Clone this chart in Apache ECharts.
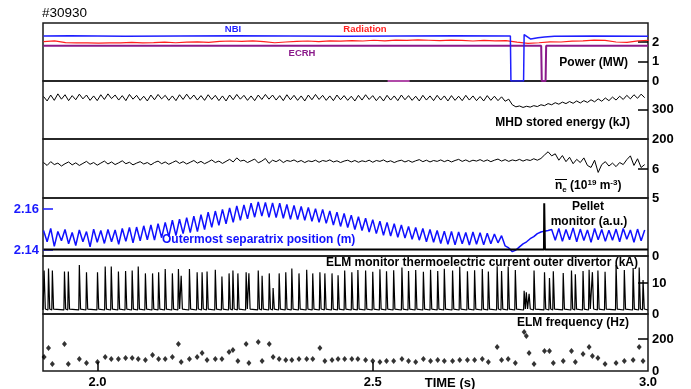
<!DOCTYPE html>
<html><head><meta charset="utf-8">
<script src="https://cdn.jsdelivr.net/npm/echarts@6/dist/echarts.min.js"></script>
<style>html,body{margin:0;padding:0;background:#fff}#c{width:691px;height:389px}</style>
</head><body><div id="c"></div>
<script>
// ---------- DATA ----------
// uniform sampling grid for the fast diagnostics (s)
const T0 = 1.902, DT = 0.0065;
const mhdEnergy = [
344,329,349,331,353,335,350,330,347,333,
352,336,349,331,346,330,350,334,353,337,
349,332,347,330,351,335,348,331,345,329,
349,333,351,336,348,331,346,330,350,334,
352,335,349,332,347,331,350,334,348,330,
346,329,349,333,351,335,348,331,346,330,
349,334,351,335,349,332,347,330,350,333,
348,331,346,329,349,333,351,334,348,331,
346,330,349,333,347,331,345,329,348,332,
350,334,347,330,345,329,348,332,346,330,
349,333,347,331,345,329,348,332,346,330,
348,332,346,329,347,331,345,330,348,332,
346,330,344,329,347,331,345,330,343,328,
335,316,309,312,307,311,308,313,310,316,
313,320,316,323,318,325,320,327,321,329,
322,330,324,333,326,336,328,339,330,342,
332,345,334,348,336,350,338,352,340];
const density = [
6.22,6.12,6.25,6.15,6.20,6.10,6.18,6.24,6.14,6.21,
6.12,6.19,6.26,6.16,6.22,6.13,6.20,6.27,6.17,6.24,
6.15,6.21,6.28,6.18,6.23,6.14,6.20,6.25,6.17,6.22,
6.14,6.22,6.27,6.18,6.24,6.16,6.22,6.28,6.19,6.25,
6.17,6.23,6.29,6.20,6.26,6.18,6.24,6.31,6.22,6.27,
6.19,6.26,6.33,6.24,6.38,6.27,6.30,6.22,6.28,6.34,
6.21,6.27,6.36,6.19,6.30,6.25,6.32,6.22,6.29,6.26,
6.31,6.24,6.29,6.22,6.28,6.25,6.30,6.23,6.29,6.26,
6.31,6.24,6.28,6.22,6.27,6.30,6.24,6.29,6.23,6.28,
6.25,6.30,6.23,6.29,6.26,6.31,6.24,6.28,6.22,6.27,
6.30,6.24,6.29,6.23,6.28,6.32,6.25,6.30,6.24,6.29,
6.26,6.31,6.25,6.30,6.24,6.29,6.33,6.26,6.31,6.25,
6.30,6.27,6.32,6.26,6.31,6.25,6.30,6.34,6.27,6.32,
6.26,6.31,6.28,6.33,6.27,6.32,6.29,6.35,6.30,6.36,
6.48,6.59,6.45,6.52,6.30,6.46,6.25,6.40,6.18,6.33,
6.22,6.38,6.12,6.05,6.30,5.88,6.15,6.25,6.10,6.20,
6.08,6.22,6.15,6.32,6.45,6.12,6.35,6.05,6.15];
const separatrix = [
2.1495,2.1440,2.1505,2.1418,2.1490,2.1445,2.1500,2.1430,2.1485,2.1422,
2.1498,2.1440,2.1490,2.1415,2.1502,2.1438,2.1495,2.1432,2.1500,2.1440,
2.1498,2.1428,2.1505,2.1442,2.1510,2.1435,2.1512,2.1445,2.1518,2.1450,
2.1522,2.1448,2.1528,2.1460,2.1535,2.1465,2.1545,2.1470,2.1550,2.1480,
2.1558,2.1485,2.1565,2.1490,2.1572,2.1500,2.1585,2.1510,2.1590,2.1520,
2.1598,2.1528,2.1605,2.1535,2.1615,2.1545,2.1620,2.1552,2.1628,2.1560,
2.1635,2.1565,2.1632,2.1560,2.1630,2.1558,2.1628,2.1555,2.1622,2.1550,
2.1618,2.1548,2.1612,2.1545,2.1608,2.1540,2.1602,2.1535,2.1598,2.1530,
2.1590,2.1522,2.1585,2.1515,2.1578,2.1510,2.1570,2.1500,2.1562,2.1495,
2.1555,2.1488,2.1548,2.1480,2.1540,2.1472,2.1535,2.1468,2.1528,2.1462,
2.1522,2.1458,2.1515,2.1452,2.1510,2.1448,2.1505,2.1440,2.1500,2.1438,
2.1495,2.1432,2.1492,2.1428,2.1490,2.1425,2.1488,2.1430,2.1485,2.1424,
2.1488,2.1428,2.1484,2.1425,2.1482,2.1430,2.1478,2.1435,2.1470,2.1420,
2.1410,2.1392,2.1400,2.1415,2.1430,2.1440,2.1455,2.1465,2.1480,2.1488,
2.1492,2.1495,2.1500,2.1448,2.1505,2.1442,2.1500,2.1450,2.1508,2.1440,
2.1502,2.1446,2.1498,2.1438,2.1505,2.1450,2.1500,2.1442,2.1496,2.1448,
2.1502,2.1440,2.1505,2.1452,2.1498,2.1438,2.1502,2.1445,2.1498];

// radiation, sampled every 20 ms
const RT0 = 1.902, RDT = 0.02;
const radiation = [2.02,2.06,1.97,1.95,1.96,1.94,1.96,1.95,1.98,1.96,
1.97,1.99,1.96,1.99,2.01,1.98,2.03,2.05,2.03,2.06,
2.02,1.96,2.00,2.03,2.05,2.02,2.06,2.04,2.07,2.05,
2.09,2.06,2.10,2.08,2.11,2.09,2.07,2.10,2.08,2.05,
2.08,2.06,2.07,1.99,1.93,1.96,2.01,2.00,2.04,2.06,
2.10,2.08,2.00,1.98,2.06,2.09];

const nbiTime  = [1.902,1.95,2.05,2.15,2.25,2.35,2.45,2.55,2.65,2.750,2.751,2.774,2.775,2.777,2.787,2.800,2.812,2.830,2.90,3.0];
const nbiPower = [2.31, 2.32,2.30,2.31,2.32,2.31,2.30,2.31,2.32,2.31, 0,    0,    2.38, 2.45, 2.15, 2.22, 2.26, 2.30, 2.31,2.30];
const ecrhTime  = [1.902,2.806,2.807,2.814,2.815,3.0];
const ecrhPower = [1.81, 1.81, 0,    0,    1.81, 1.81];
const ecrh2Time  = [2.527,2.567];
const ecrh2Power = [0,0];
const pelletTime   = [1.902,2.8110,2.8115,2.8122,2.8128,3.0];
const pelletSignal = [0.55, 0.55,  4.55,  4.55,  0.55,  0.55];

// ELMs: time (s), frequency (Hz), thermoelectric current peak (kA)
const elmTime = [1.903,1.911,1.918,1.940,1.947,1.967,1.980,2.000,2.014,2.025,
2.038,2.051,2.063,2.074,2.087,2.100,2.111,2.123,2.136,2.147,
2.152,2.167,2.181,2.190,2.199,2.214,2.226,2.239,2.246,2.255,
2.270,2.275,2.292,2.299,2.312,2.319,2.330,2.342,2.353,2.366,
2.380,2.391,2.404,2.413,2.426,2.437,2.449,2.462,2.473,2.487,
2.500,2.513,2.525,2.538,2.553,2.565,2.578,2.592,2.605,2.618,
2.630,2.645,2.658,2.672,2.685,2.699,2.710,2.726,2.734,2.746,
2.759,2.775,2.779,2.784,2.793,2.812,2.821,2.828,2.846,2.861,
2.868,2.882,2.893,2.899,2.909,2.922,2.942,2.957,2.973,2.984,2.991];
const elmFreq = [88,144,44,169,44,75,50,56,87,75,
75,81,81,75,69,100,75,75,87,169,
56,75,87,112,69,75,75,119,131,62,
169,50,181,62,169,87,75,69,69,75,
75,75,144,62,69,75,75,75,75,69,
62,56,62,62,75,62,56,75,62,69,
62,62,69,69,69,75,56,150,69,75,
50,244,219,112,44,125,125,50,62,125,
56,106,150,94,81,44,50,62,69,150,62];
const elmPeak = [14.0,14.7,14.0,13.7,13.7,15.8,13.5,13.5,15.3,15.3,
13.7,13.9,14.0,15.3,13.1,13.1,13.5,14.5,13.1,14.5,
12.3,14.5,13.5,13.5,13.7,14.3,12.1,13.1,14.0,13.1,
13.5,13.1,14.0,12.3,13.1,8.4,13.1,13.5,14.7,13.1,
14.3,13.1,13.5,13.1,13.1,12.5,14.0,13.5,14.2,14.0,
13.6,14.4,13.8,14.1,15.0,13.9,14.2,13.6,14.3,13.9,
14.6,14.0,15.2,13.8,14.1,14.5,13.7,15.4,13.9,15.3,
14.2,7.5,7.0,6.5,14.0,13.5,11.6,13.8,13.2,14.0,
12.8,13.9,14.3,13.5,14.0,13.6,15.8,14.2,14.8,15.0,11.0];
const elmBase = 1.3;

// tick labels
const timeLabels = [2.0, 2.5, 3.0];
const powerLabels = [0,1,2], mhdLabels = [200,300], neLabels = [5,6];
const sepLabels = [2.14, 2.16], pelletLabels = [0], elmLabels = [0,10], freqLabels = [0,200];

// ---------- BUILD ----------
const FONT = '"Liberation Sans", Arial, Helvetica, sans-serif';
const onGrid = (arr, t0, dt) => arr.map((v, i) => [+(t0 + i * dt).toFixed(4), v]);
const pairs = (ts, vs) => ts.map((t, i) => [t, vs[i]]);
const elmCurrent = [[1.901, elmBase]];
elmTime.forEach((t, i) => {
  elmCurrent.push([t - 0.0010, elmBase], [t, elmPeak[i]], [t + 0.0022, elmBase + 0.3]);
});
elmCurrent.push([3.0, elmBase]);

const XMIN = 1.901, XMAX = 3.0;
const gridTops = [23, 81, 139, 198, 256, 314];
const gridH = [58, 58, 59, 58, 58, 57];
const grids = gridTops.map((t, i) => ({left: 43, right: 43, top: t, height: gridH[i], show: true,
  borderColor: '#1a1a1a', borderWidth: 1.5, backgroundColor: 'transparent'}));

const xAxes = gridTops.map((t, i) => ({
  type: 'value', gridIndex: i, min: XMIN, max: XMAX, show: i === 5,
  splitLine: {show: false}, axisLine: {show: false},
  axisTick: {show: true, inside: true, length: 9, customValues: [2.0, 2.5], lineStyle: {color: '#000', width: 1.5}},
  axisLabel: {customValues: timeLabels, formatter: v => v.toFixed(1), color: '#000', fontFamily: FONT,
    fontWeight: 'bold', fontSize: 13, margin: 5}
}));

function yAx(gi, min, max, labels, ticks, pos, color, fmt) {
  return {type: 'value', gridIndex: gi, position: pos || 'right', min, max,
    splitLine: {show: false}, axisLine: {show: false},
    axisTick: ticks.length ? {show: true, inside: true, length: 10, customValues: ticks,
      lineStyle: {color: color || '#000', width: 1.5}} : {show: false},
    axisLabel: {customValues: labels, color: color || '#000', fontFamily: FONT, fontWeight: 'bold',
      fontSize: 13, margin: 4, formatter: fmt || (v => String(v))}};
}
const yAxes = [
  yAx(0, 0, 2.974, powerLabels, [1, 2]),
  yAx(1, 200, 396.6, mhdLabels, [300]),
  yAx(2, 5, 7.03, neLabels, [6]),
  yAx(3, 2.13707, 2.16537, sepLabels, sepLabels, 'left', '#1a1aff', v => v.toFixed(2)),
  yAx(3, 0, 5, pelletLabels, []),
  yAx(4, 0, 18.71, elmLabels, [10]),
  yAx(5, 0, 356, freqLabels, [200])
];

const line = (name, data, xi, yi, color, width, z) => ({name, type: 'line', data, xAxisIndex: xi, yAxisIndex: yi,
  showSymbol: false, symbol: 'none', lineStyle: {color, width}, itemStyle: {color}, z: z || 2, animation: false});

const series = [
  line('ECRH', pairs(ecrhTime, ecrhPower), 0, 0, '#8a1a8a', 2),
  line('ECRH2', pairs(ecrh2Time, ecrh2Power), 0, 0, '#b04aa8', 2),
  line('Radiation', onGrid(radiation, RT0, RDT), 0, 0, '#ff1f1f', 1.2),
  line('NBI', pairs(nbiTime, nbiPower), 0, 0, '#1f1fff', 1.5),
  line('MHD', onGrid(mhdEnergy, T0, DT), 1, 1, '#000', 1),
  line('ne', onGrid(density, T0, DT), 2, 2, '#000', 1),
  line('Pellet', pairs(pelletTime, pelletSignal), 3, 4, '#000', 2, 3),
  line('Separatrix', onGrid(separatrix, T0, DT), 3, 3, '#1010ff', 1.5),
  line('ELM current', elmCurrent, 4, 5, '#000', 1.2),
  {name: 'ELM frequency', type: 'scatter', data: pairs(elmTime, elmFreq), xAxisIndex: 5, yAxisIndex: 6,
   symbol: 'diamond', symbolSize: [5, 6], itemStyle: {color: '#000'}, animation: false}
];

const txt = (text, x, y, font, fill, align) => ({type: 'text', x, y, z: 100,
  style: {text, font, fill: fill || '#000', align: align || 'left', verticalAlign: 'middle'}});
const B12 = 'bold 12px ' + FONT;
const graphic = [
  txt('#30930', 42, 13, 'normal 13.5px ' + FONT),
  txt('NBI', 233, 29, 'bold 9.5px ' + FONT, '#1f1fff', 'center'),
  txt('Radiation', 365, 29, 'bold 9.5px ' + FONT, '#ff1f1f', 'center'),
  txt('ECRH', 302, 53, 'bold 9.5px ' + FONT, '#8a1a8a', 'center'),
  txt('Power (MW)', 628, 63, B12, '#000', 'right'),
  txt('MHD stored energy (kJ)', 630, 123, B12, '#000', 'right'),
  {type: 'text', x: 555, y: 186, z: 100, style: {
    text: '{a|n}{b|e}{a| (10}{c|19}{a| m}{c|-3}{a|)}', verticalAlign: 'middle', align: 'left',
    rich: {a: {font: B12, fill: '#000', lineHeight: 15, verticalAlign: 'middle'},
           b: {font: 'bold 8px ' + FONT, fill: '#000', lineHeight: 15, verticalAlign: 'bottom'},
           c: {font: 'bold 8px ' + FONT, fill: '#000', lineHeight: 15, verticalAlign: 'top'}}}},
  {type: 'line', z: 100, shape: {x1: 555, y1: 179.5, x2: 567, y2: 179.5}, style: {stroke: '#000', lineWidth: 1}},
  txt('Outermost separatrix position (m)', 162, 240, B12, '#1010ff', 'left'),
  txt('Pellet', 588, 207, B12, '#000', 'center'),
  txt('monitor (a.u.)', 589, 222, B12, '#000', 'center'),
  txt('ELM monitor thermoelectric current outer divertor (kA)', 638, 263, B12, '#000', 'right'),
  txt('ELM frequency (Hz)', 629, 323, B12, '#000', 'right'),
  txt('TIME (s)', 450, 383, 'bold 13px ' + FONT, '#000', 'center')
];

const chart = echarts.init(document.getElementById('c'), null, {renderer: 'canvas'});
chart.setOption({animation: false, backgroundColor: '#fff', grid: grids, xAxis: xAxes, yAxis: yAxes, series, graphic});
</script></body></html>
